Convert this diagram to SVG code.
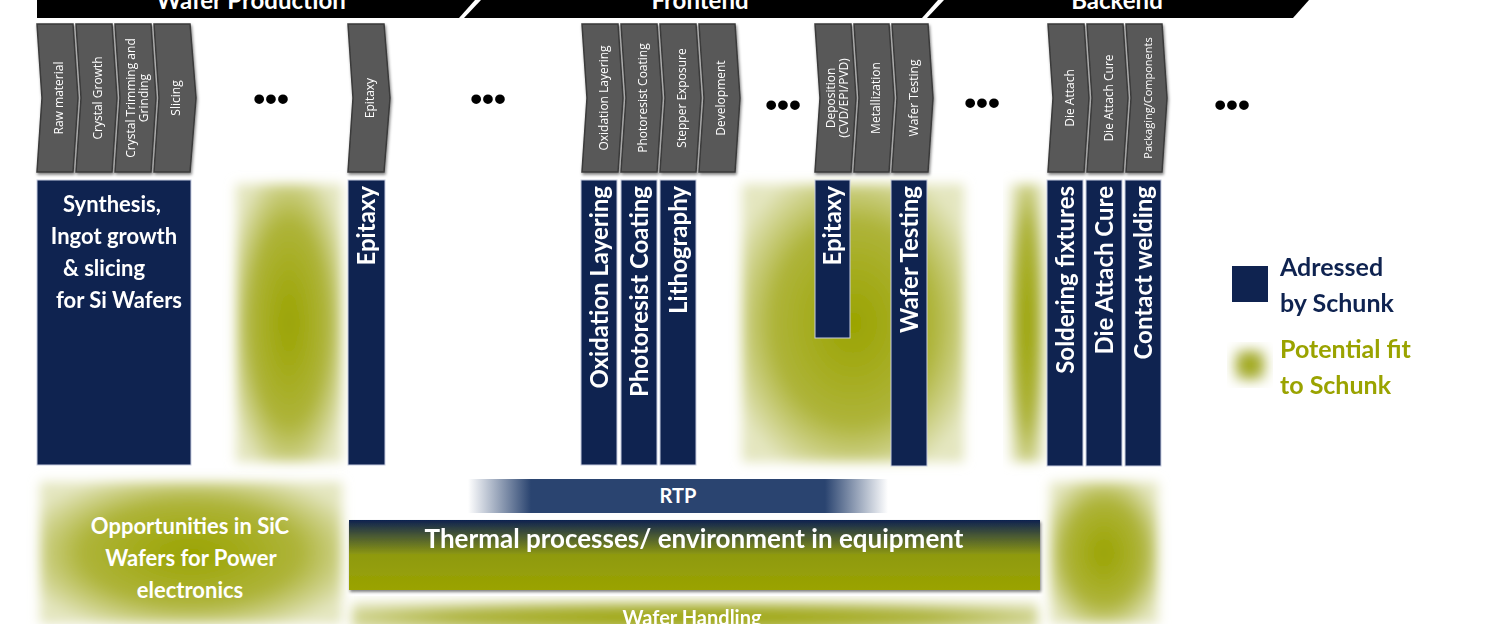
<svg xmlns="http://www.w3.org/2000/svg" width="1499" height="624" viewBox="0 0 1499 624">
<defs>
<style>
.hdr{fill:#000}
.ht{font-family:Lato,"Open Sans",sans-serif;font-weight:bold;font-size:24px;fill:#fff;text-anchor:middle}
.step{fill:#595959;stroke:#3a3a3a;stroke-width:1.5}
.st{font-family:"Open Sans",sans-serif;font-size:12px;fill:#fff;text-anchor:middle}
.blue{fill:#0f2350;stroke:#c8cde0;stroke-width:1}
.bt{font-family:Lato,"Open Sans",sans-serif;font-weight:bold;font-size:22px;fill:#fff}
.vt{font-size:24px}
.dots{font-family:"Liberation Sans",sans-serif;font-weight:bold;font-size:34px;fill:#000;text-anchor:middle}
.green{fill:url(#rg);filter:url(#blur)}
.lg{font-family:Lato,"Open Sans",sans-serif;font-weight:bold;font-size:25px}
</style>
<radialGradient id="rg" cx="0.5" cy="0.5" r="0.6">
<stop offset="0" stop-color="#9aa300"/>
<stop offset="0.6" stop-color="#aeb43a"/>
<stop offset="1" stop-color="#e4e6c0"/>
</radialGradient>
<linearGradient id="tg" x1="0" y1="0" x2="0" y2="1">
<stop offset="0" stop-color="#0f2350"/>
<stop offset="0.5" stop-color="#8f9a10"/>
<stop offset="1" stop-color="#9aa300"/>
</linearGradient>
<linearGradient id="rtp" x1="0" y1="0" x2="1" y2="0">
<stop offset="0" stop-color="#ffffff"/>
<stop offset="0.15" stop-color="#2a4470"/>
<stop offset="0.85" stop-color="#2a4470"/>
<stop offset="1" stop-color="#ffffff"/>
</linearGradient>
<filter id="blur" x="-20%" y="-20%" width="140%" height="140%"><feGaussianBlur stdDeviation="6"/></filter>
<filter id="sh" x="-20%" y="-20%" width="140%" height="140%"><feDropShadow dx="1" dy="2" stdDeviation="1.5" flood-opacity="0.5"/></filter>
</defs>

<g id="headers">
<polygon class="hdr" points="37,0 475,0 459,18 37,18"/>
<polygon class="hdr" points="481,0 938,0 922,18 464,18"/>
<polygon class="hdr" points="944,0 1309,0 1293,18 927,18"/>
<text class="ht" x="251" y="9">Wafer Production</text>
<text class="ht" x="700" y="9">Frontend</text>
<text class="ht" x="1117" y="9">Backend</text>
</g>

<g id="green-areas">
<rect class="green" x="236" y="184" width="106" height="278"/>
<rect class="green" x="742" y="184" width="222" height="278"/>
<rect class="green" x="1010" y="184" width="34" height="278"/>
<rect class="green" x="40" y="482" width="302" height="142"/>
<rect class="green" x="1050" y="482" width="108" height="142"/>
<rect class="green" x="352" y="602" width="686" height="30"/>
<rect class="green" x="1234" y="349" width="32" height="32"/>
</g>

<g id="steps" filter="url(#sh)">
<g id="s-raw"><polygon class="step" points="37,24 73,24 78,98 73,172 37,172 42,98"/><text class="st" transform="translate(59,98) rotate(-90)" y="4">Raw material</text></g>
<g id="s-cg"><polygon class="step" points="76,24 112,24 117,98 112,172 76,172 81,98"/><text class="st" transform="translate(98,98) rotate(-90)" y="4">Crystal Growth</text></g>
<g id="s-ctg"><polygon class="step" points="115,24 151,24 156,98 151,172 115,172 120,98"/><text class="st" transform="translate(137,98) rotate(-90)"><tspan x="0" y="-2">Crystal Trimming and</tspan><tspan x="0" y="11">Grinding</tspan></text></g>
<g id="s-sl"><polygon class="step" points="154,24 190,24 196,98 190,172 154,172 159,98"/><text class="st" transform="translate(176,98) rotate(-90)" y="4">Slicing</text></g>
<g id="s-epi"><polygon class="step" points="348,24 384,24 390,98 384,172 348,172 353,98"/><text class="st" transform="translate(370,98) rotate(-90)" y="4">Epitaxy</text></g>
<g id="s-ox"><polygon class="step" points="582,24 618,24 623,98 618,172 582,172 587,98"/><text class="st" transform="translate(604,98) rotate(-90)" y="4">Oxidation Layering</text></g>
<g id="s-pc"><polygon class="step" points="621,24 657,24 662,98 657,172 621,172 626,98"/><text class="st" transform="translate(643,98) rotate(-90)" y="4">Photoresist Coating</text></g>
<g id="s-se"><polygon class="step" points="660,24 696,24 701,98 696,172 660,172 665,98"/><text class="st" transform="translate(682,98) rotate(-90)" y="4">Stepper Exposure</text></g>
<g id="s-dev"><polygon class="step" points="699,24 735,24 740,98 735,172 699,172 704,98"/><text class="st" transform="translate(721,98) rotate(-90)" y="4">Development</text></g>
<g id="s-dep"><polygon class="step" points="815,24 851,24 856,98 851,172 815,172 820,98"/><text class="st" transform="translate(837,98) rotate(-90)"><tspan x="0" y="-2">Deposition</tspan><tspan x="0" y="11">(CVD/EPI/PVD)</tspan></text></g>
<g id="s-met"><polygon class="step" points="854,24 889,24 894,98 889,172 854,172 859,98"/><text class="st" transform="translate(876,98) rotate(-90)" y="4">Metallization</text></g>
<g id="s-wt"><polygon class="step" points="892,24 928,24 933,98 928,172 892,172 897,98"/><text class="st" transform="translate(914,98) rotate(-90)" y="4">Wafer Testing</text></g>
<g id="s-da"><polygon class="step" points="1048,24 1084,24 1089,98 1084,172 1048,172 1053,98"/><text class="st" transform="translate(1070,98) rotate(-90)" y="4">Die Attach</text></g>
<g id="s-dac"><polygon class="step" points="1087,24 1123,24 1128,98 1123,172 1087,172 1092,98"/><text class="st" transform="translate(1109,98) rotate(-90)" y="4">Die Attach Cure</text></g>
<g id="s-pk"><polygon class="step" points="1126,24 1162,24 1167,98 1162,172 1126,172 1131,98"/><text class="st" style="font-size:11px" transform="translate(1148,98) rotate(-90)" y="4">Packaging/Components</text></g>
</g>

<g id="dots">
<text class="dots" x="271" y="110">•••</text>
<text class="dots" x="488" y="110">•••</text>
<text class="dots" x="783" y="116">•••</text>
<text class="dots" x="982" y="114">•••</text>
<text class="dots" x="1232" y="116">•••</text>
</g>

<g id="blue-boxes">
<g id="b-syn"><rect class="blue" x="37" y="180" width="154" height="285"/>
<text class="bt" text-anchor="middle" x="112" y="212">Synthesis,</text>
<text class="bt" text-anchor="middle" x="114" y="244">Ingot growth</text>
<text class="bt" text-anchor="middle" x="104" y="276">&amp; slicing</text>
<text class="bt" text-anchor="middle" x="119" y="308">for Si Wafers</text></g>
<g id="b-epi"><rect class="blue" x="348" y="180" width="37" height="285"/><text class="bt vt" text-anchor="end" transform="translate(375,186) rotate(-90)">Epitaxy</text></g>
<g id="b-ox"><rect class="blue" x="581" y="180" width="36" height="285"/><text class="bt vt" text-anchor="end" transform="translate(608,186) rotate(-90)">Oxidation Layering</text></g>
<g id="b-pc"><rect class="blue" x="621" y="180" width="36" height="285"/><text class="bt vt" text-anchor="end" transform="translate(648,186) rotate(-90)">Photoresist Coating</text></g>
<g id="b-li"><rect class="blue" x="660" y="180" width="36" height="285"/><text class="bt vt" text-anchor="end" transform="translate(687,186) rotate(-90)">Lithography</text></g>
<g id="b-epi2"><rect class="blue" x="815" y="180" width="35" height="158"/><text class="bt vt" text-anchor="end" transform="translate(841,186) rotate(-90)">Epitaxy</text></g>
<g id="b-wt"><rect class="blue" x="891" y="180" width="36" height="286"/><text class="bt vt" text-anchor="end" transform="translate(918,186) rotate(-90)">Wafer Testing</text></g>
<g id="b-sf"><rect class="blue" x="1047" y="180" width="36" height="286"/><text class="bt vt" text-anchor="end" transform="translate(1074,186) rotate(-90)">Soldering fixtures</text></g>
<g id="b-dac"><rect class="blue" x="1086" y="180" width="36" height="286"/><text class="bt vt" text-anchor="end" transform="translate(1113,186) rotate(-90)">Die Attach Cure</text></g>
<g id="b-cw"><rect class="blue" x="1125" y="180" width="36" height="286"/><text class="bt vt" text-anchor="end" transform="translate(1152,186) rotate(-90)">Contact welding</text></g>
</g>

<g id="bottom">
<g id="opp"><text class="bt" text-anchor="middle" x="190" y="534">Opportunities in SiC</text>
<text class="bt" text-anchor="middle" x="191" y="566">Wafers for Power</text>
<text class="bt" text-anchor="middle" x="190" y="598">electronics</text></g>
<g id="rtp"><rect x="468" y="479" width="420" height="34" fill="url(#rtp)"/><text class="bt" style="font-size:20px" text-anchor="middle" x="678" y="503">RTP</text></g>
<g id="thermal"><rect x="349" y="520" width="691" height="70" fill="url(#tg)" filter="url(#sh)"/><text class="bt" style="font-size:26px" text-anchor="middle" x="694" y="548">Thermal processes/ environment in equipment</text></g>
<g id="wh"><text class="bt" style="font-size:20px" text-anchor="middle" x="692" y="625">Wafer Handling</text></g>
</g>

<g id="legend">
<rect x="1232" y="266" width="36" height="36" fill="#0f2350"/>
<text class="lg" fill="#0f2350" x="1280" y="276">Adressed</text>
<text class="lg" fill="#0f2350" x="1280" y="312">by Schunk</text>
<text class="lg" fill="#9aa300" x="1280" y="358">Potential fit</text>
<text class="lg" fill="#9aa300" x="1280" y="394">to Schunk</text>
</g>
</svg>
